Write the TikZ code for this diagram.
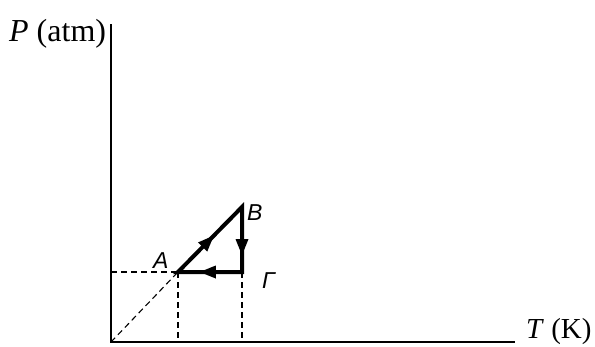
\documentclass[tikz,border=0pt]{standalone}
\usepackage{fontspec}
\setmainfont{Liberation Serif}
\newfontfamily\lblfont{Liberation Sans}
\usetikzlibrary{decorations.markings}
\begin{document}
\begin{tikzpicture}[x=1pt,y=-1pt,
  axis/.style={line width=1.6pt},
  proc/.style={line width=4pt,line cap=rect},
  midarrow/.style={postaction={decorate,decoration={markings,mark=at position #1 with {\fill (0pt,0pt) -- (-16pt,6.5pt) -- (-16pt,-6.5pt) -- cycle;}}}},
  guide/.style={line width=1.1pt,dash pattern=on 6pt off 4pt},
  axlabel/.style={font=\fontsize{#1}{32}\selectfont,inner sep=0pt},
  ptlabel/.style={font=\lblfont\itshape\fontsize{23}{26}\selectfont,inner sep=0pt}]
\useasboundingbox (0,0) rectangle (595,346);
\coordinate (O) at (111,342);
\coordinate (Ytop) at (111,24);
\coordinate (Xend) at (515,342);
\coordinate (A) at (178,272);
\coordinate (B) at (242,207);
\coordinate (G) at (242,272);
\coordinate (Ay) at (111,272);
\coordinate (Ax) at (178,342);
\coordinate (Gx) at (242,342);
% guides
\draw[guide] (O) -- (A);
\draw[guide] (Ay) -- (A);
\draw[guide] (A) -- (Ax);
\draw[guide] (G) -- (Gx);
% axes
\draw[axis] (Ytop) -- (O) -- (Xend);
% process
\draw[proc,line join=miter] (A) -- (B) -- (G) -- cycle;
\path[midarrow=0.56] (A) -- (B);
\path[midarrow=0.74] (B) -- (G);
\path[midarrow=0.66] (G) -- (A);
% labels
\node[axlabel=32,anchor=base west] (Plbl) at (9,41) {\textit{P} (atm)};
\node[axlabel=29,anchor=base west] (Tlbl) at (526,338) {\textit{T} (K)};
\node[ptlabel,anchor=base west] (Albl) at (153,268) {A};
\node[ptlabel,anchor=base west] (Blbl) at (247,220) {B};
\node[ptlabel,anchor=base west] (Glbl) at (262,288) {Γ};
\end{tikzpicture}
\end{document}
